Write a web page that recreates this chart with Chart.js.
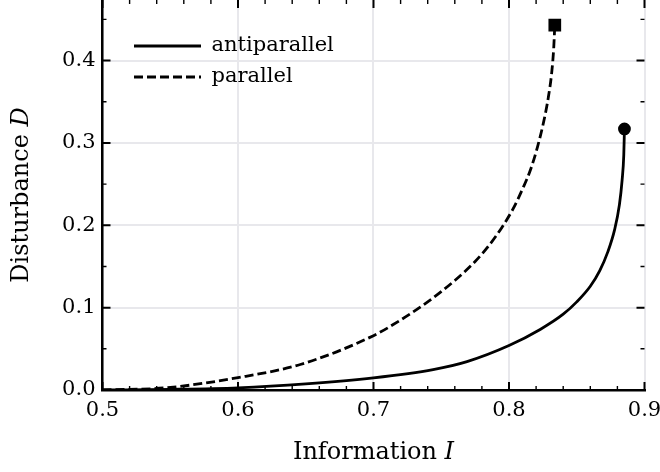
<!DOCTYPE html>
<html>
<head>
<meta charset="utf-8">
<script src="https://cdn.jsdelivr.net/npm/chart.js@4.4.1/dist/chart.umd.min.js"></script>
<style>
  html, body { margin: 0; padding: 0; background: #fff; }
</style>
</head>
<body>
<canvas id="myChart" width="660" height="472"></canvas>
<script>
// values
const antiI = [0.5, 0.55, 0.6, 0.65, 0.7, 0.744, 0.769, 0.8, 0.823, 0.84, 0.85, 0.86, 0.867, 0.873, 0.878, 0.8815, 0.8835, 0.8847, 0.8852];
const antiD = [0, 0.0008, 0.0027, 0.0075, 0.0148, 0.0248, 0.0345, 0.054, 0.0735, 0.092, 0.107, 0.126, 0.145, 0.168, 0.195, 0.225, 0.255, 0.285, 0.317];
const paraI = [0.5, 0.547, 0.6, 0.646, 0.7, 0.72, 0.74, 0.76, 0.775, 0.785, 0.795, 0.803, 0.81, 0.816, 0.821, 0.8255, 0.829, 0.8315, 0.833, 0.8338];
const paraD = [0, 0.0027, 0.015, 0.031, 0.066, 0.085, 0.107, 0.133, 0.156, 0.175, 0.198, 0.22, 0.244, 0.268, 0.295, 0.325, 0.355, 0.385, 0.415, 0.443];

const xTickValues = [0.5, 0.52, 0.54, 0.56, 0.58, 0.6, 0.62, 0.64, 0.66, 0.68, 0.7, 0.72, 0.74, 0.76, 0.78, 0.8, 0.82, 0.84, 0.86, 0.88, 0.9];
const yTickValues = [0, 0.05, 0.1, 0.15, 0.2, 0.25, 0.3, 0.35, 0.4, 0.45];
const xRange = [0.5, 0.9];
const yRange = [0, 0.4735];

const serif = '"DejaVu Serif", serif';
const gridColor = '#e8e8ec';

function isMajor(v) {
  return Math.abs(v * 10 - Math.round(v * 10)) < 1e-6;
}

function toPoints(xs, ys) {
  return xs.map((x, i) => ({ x: x, y: ys[i] }));
}

function lastOnly(r) {
  return (c) => (c.dataIndex === c.dataset.data.length - 1 ? r : 0);
}

// inward ticks on all four sides
const frameTicks = {
  id: 'frameTicks',
  afterDraw(chart) {
    const { ctx, chartArea: a, scales: { x, y } } = chart;
    ctx.save();
    ctx.strokeStyle = '#000';
    x.ticks.forEach((t) => {
      const px = x.getPixelForValue(t.value);
      const major = isMajor(t.value);
      const len = major ? 8 : 4;
      ctx.lineWidth = major ? 2 : 1.4;
      ctx.beginPath();
      ctx.moveTo(px, a.bottom);
      ctx.lineTo(px, a.bottom - len);
      ctx.moveTo(px, a.top);
      ctx.lineTo(px, a.top + len);
      ctx.stroke();
    });
    y.ticks.forEach((t) => {
      const py = y.getPixelForValue(t.value);
      const major = isMajor(t.value);
      const len = major ? 8 : 4;
      ctx.lineWidth = major ? 2 : 1.4;
      ctx.beginPath();
      ctx.moveTo(a.left, py);
      ctx.lineTo(a.left + len, py);
      ctx.moveTo(a.right, py);
      ctx.lineTo(a.right - len, py);
      ctx.stroke();
    });
    ctx.restore();
  }
};

function drawMixed(ctx, parts, cx, cy) {
  let total = 0;
  parts.forEach((p) => { ctx.font = p[1]; total += ctx.measureText(p[0]).width; });
  let px = cx - total / 2;
  parts.forEach((p) => {
    ctx.font = p[1];
    ctx.fillText(p[0], px, cy);
    px += ctx.measureText(p[0]).width;
  });
}

// axis titles with an italic symbol
const axisTitles = {
  id: 'axisTitles',
  afterDraw(chart) {
    const { ctx, chartArea: a } = chart;
    const up = '24px ' + serif;
    const it = 'italic 24px ' + serif;
    ctx.save();
    ctx.fillStyle = '#000';
    ctx.textAlign = 'left';
    ctx.textBaseline = 'middle';
    drawMixed(ctx, [['Information ', up], ['I', it]], (a.left + a.right) / 2, 453);
    ctx.translate(22, (a.top + a.bottom) / 2);
    ctx.rotate(-Math.PI / 2);
    drawMixed(ctx, [['Disturbance ', up], ['D', it]], 0, 0);
    ctx.restore();
  }
};

// put the legend in the upper left corner of the plot
const legendSpot = {
  id: 'legendSpot',
  afterLayout(chart) {
    const lg = chart.legend;
    const pad = lg.options.labels.padding;
    const dx = 134 - pad - lg.left;
    const dy = 35.5 - pad - lg.top;
    lg.left += dx; lg.right += dx;
    lg.top += dy; lg.bottom += dy;
  }
};

const ctx = document.getElementById('myChart').getContext('2d');

const myChart = new Chart(ctx, {
  type: 'line',
  data: {
    datasets: [
      {
        label: 'antiparallel',
        data: toPoints(antiI, antiD),
        borderColor: '#000',
        backgroundColor: '#000',
        borderWidth: 2.8,
        pointStyle: 'circle',
        pointRadius: lastOnly(5),
        pointHoverRadius: lastOnly(5),
        cubicInterpolationMode: 'monotone',
      },
      {
        label: 'parallel',
        data: toPoints(paraI, paraD),
        borderColor: '#000',
        backgroundColor: '#000',
        borderWidth: 2.8,
        borderDash: [9, 4],
        pointStyle: 'rect',
        pointRadius: lastOnly(7),
        pointHoverRadius: lastOnly(7),
        cubicInterpolationMode: 'monotone',
      },
    ],
  },
  options: {
    responsive: false,
    animation: false,
    events: [],
    layout: { autoPadding: false, padding: { left: 0, top: 0, right: 15.5, bottom: 0 } },
    scales: {
      x: {
        type: 'linear',
        min: xRange[0],
        max: xRange[1],
        afterBuildTicks: (s) => { s.ticks = xTickValues.map((v) => ({ value: v })); },
        afterFit: (s) => { s.height = 82; s.paddingLeft = 0; s.paddingRight = 0; },
        ticks: {
          autoSkip: false,
          maxRotation: 0,
          padding: 8,
          color: '#000',
          font: { family: serif, size: 21 },
          callback: (v) => (isMajor(v) ? v.toFixed(1) : ''),
        },
        grid: {
          drawTicks: false,
          lineWidth: 2,
          color: (c) => (c.tick && isMajor(c.tick.value) ? gridColor : 'rgba(0,0,0,0)'),
        },
        border: { display: true, color: '#000', width: 2.5 },
      },
      y: {
        type: 'linear',
        min: yRange[0],
        max: yRange[1],
        afterBuildTicks: (s) => { s.ticks = yTickValues.map((v) => ({ value: v })); },
        afterFit: (s) => { s.width = 102.5; s.paddingTop = 0; s.paddingBottom = 0; },
        ticks: {
          autoSkip: false,
          padding: 7,
          color: '#000',
          font: { family: serif, size: 21 },
          callback: (v) => (isMajor(v) ? v.toFixed(1) : ''),
        },
        grid: {
          drawTicks: false,
          lineWidth: 2,
          color: (c) => (c.tick && isMajor(c.tick.value) ? gridColor : 'rgba(0,0,0,0)'),
        },
        border: { display: true, color: '#000', width: 2.5 },
      },
    },
    plugins: {
      tooltip: { enabled: false },
      legend: {
        position: 'chartArea',
        align: 'start',
        labels: {
          usePointStyle: true,
          pointStyle: 'line',
          pointStyleWidth: 67,
          padding: 10,
          color: '#000',
          font: { family: serif, size: 21 },
          generateLabels: (chart) => chart.data.datasets.map((ds, i) => ({
            text: ds.label,
            datasetIndex: i,
            fillStyle: ds.borderColor,
            strokeStyle: ds.borderColor,
            fontColor: '#000',
            lineWidth: ds.borderWidth,
            lineDash: ds.borderDash || [],
            pointStyle: 'line',
            hidden: false,
          })),
        },
      },
    },
  },
  plugins: [frameTicks, axisTitles, legendSpot],
});
</script>
</body>
</html>
